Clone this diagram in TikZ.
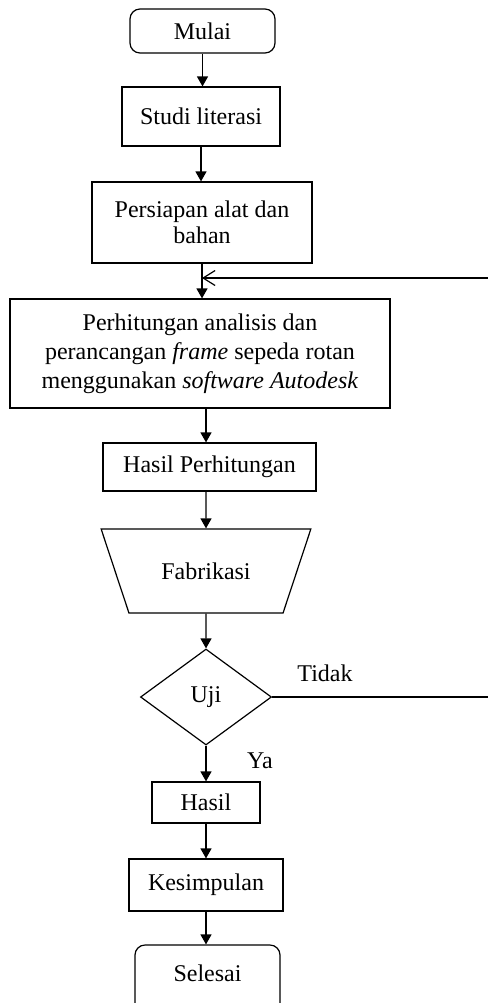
\documentclass[tikz,border=0pt]{standalone}
\usepackage{fontspec}
\setmainfont{Liberation Serif}
\usepackage{tikz}
\usetikzlibrary{shapes.geometric}
\usetikzlibrary{arrows.meta}

\begin{document}
\begin{tikzpicture}[x=0.5pt,y=-0.5pt,line width=0.6pt,
        font=\fontsize{12}{14.5}\selectfont,
        kotak/.style={draw,rectangle,align=center,inner sep=2pt},
        ujung/.style={kotak,rounded corners=5pt},
        panah/.style={-{Triangle[length=5pt,width=5.5pt]}}]
            \useasboundingbox (0,0) rectangle (488,1003);
            \node[ujung,minimum width=72.5pt,minimum height=22pt] (mulai) at (202.5,31) {Mulai};
            \node[kotak,minimum width=79pt,minimum height=29.5pt] (studi) at (201,116.5) {Studi literasi};
            \node[kotak,minimum width=110pt,minimum height=40.5pt] (persiapan) at (202,222.5) {Persiapan alat dan\\[-1.5pt] bahan};
            \node[kotak,minimum width=190pt,minimum height=54.5pt] (hitung) at (200,353.5)
                {Perhitungan analisis dan\\ perancangan \textit{frame} sepeda rotan\\ menggunakan \textit{software Autodesk}};
            \node[kotak,minimum width=106.5pt,minimum height=24pt] (hasilhit) at (209.5,467) {Hasil Perhitungan};
            \node[draw,trapezium,shape border rotate=180,trapezium left angle=58.5,trapezium right angle=58.5,
                trapezium stretches=true,minimum width=105pt,minimum height=42pt] (fabrikasi) at (206,571) {Fabrikasi};
            \node[draw,diamond,inner sep=0pt,minimum width=65.5pt,minimum height=48pt] (uji) at (206,697) {Uji};
            \node[kotak,minimum width=54pt,minimum height=20.5pt] (hasil) at (206,802.5) {Hasil};
            \node[kotak,minimum width=77pt,minimum height=26pt] (kesimpulan) at (206,885) {Kesimpulan};
            \node[ujung,minimum width=72.5pt,minimum height=36pt,text depth=8pt] (selesai) at (207.5,981) {Selesai};
            \node (tidak) at (325,673) {Tidak};
            \node (ya) at (260,761) {Ya};
            \draw[panah] (mulai.south) -- (mulai.south |- studi.north);
            \draw[panah] (studi.south) -- (studi.south |- persiapan.north);
            \draw[panah] (persiapan.south) -- (persiapan.south |- hitung.north);
            \draw[panah] (hitung.south -| fabrikasi.center) -- (hasilhit.north -| fabrikasi.center);
            \draw[panah] (hasilhit.south -| fabrikasi.center) -- (fabrikasi);
            \draw[panah] (fabrikasi) -- (uji);
            \draw[panah] (uji.south) -- (uji.south |- hasil.north);
            \draw[panah] (hasil.south) -- (hasil.south |- kesimpulan.north);
            \draw[panah] (kesimpulan.south) -- (kesimpulan.south |- selesai.north);
            \coordinate (kanan) at (488.5,697);
            \coordinate (atas) at (488.5,278);
            \draw (uji.east) -- (kanan) -- (atas);
            \draw[-{Straight Barb[length=6pt,width=7.5pt]}] (atas) -- (persiapan.south |- atas);
        \end{tikzpicture}
\end{document}
